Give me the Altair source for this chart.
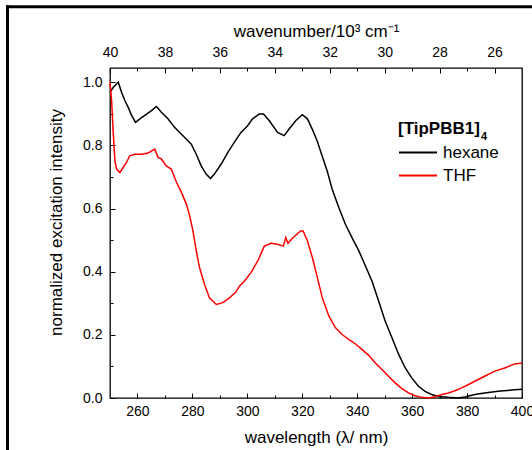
import altair as alt
import pandas as pd

# ---- data ----
hexane_nm = [250, 251.2, 253, 254.2, 255.4, 256.6, 257.9, 259.3, 260.9, 263.3, 265.1, 266.9,
             268.7, 271.1, 273.5, 277.2, 279.6, 281.4, 283.2, 285, 286.6, 288, 290.5, 292.9,
             295.3, 297.7, 300.1, 301.9, 304.3, 305.9, 308, 311, 313.4, 315.2, 317.6, 320,
             321.9, 323.7, 325.5, 327.3, 329.1, 330.9, 333.3, 335.7, 338.1, 340.6, 343, 345.4,
             347.8, 350.2, 352.7, 355.1, 357.5, 359.9, 362.3, 364.7, 367.1, 369.5, 373.1,
             376.8, 379.2, 382.8, 386.4, 391.3, 396.1, 400]
hexane_val = [0.968, 0.984, 1.0, 0.968, 0.942, 0.921, 0.894, 0.873, 0.884, 0.899, 0.910, 0.923,
              0.905, 0.884, 0.857, 0.825, 0.804, 0.772, 0.735, 0.709, 0.695, 0.709, 0.741, 0.778,
              0.810, 0.841, 0.862, 0.884, 0.899, 0.899, 0.878, 0.841, 0.831, 0.852, 0.878, 0.897,
              0.884, 0.850, 0.812, 0.765, 0.718, 0.661, 0.603, 0.550, 0.508, 0.466, 0.418, 0.370,
              0.307, 0.243, 0.190, 0.138, 0.095, 0.063, 0.037, 0.021, 0.011, 0.005, 0.002,
              0.0, 0.003, 0.011, 0.016, 0.021, 0.025, 0.028]

thf_nm = [250, 250.6, 251.2, 251.8, 252.4, 253.6, 254.8, 256, 257.2, 259, 261.5, 263.9, 266.3,
          267.5, 268.7, 270.5, 272.3, 274.2, 276, 277.8, 279, 280.2, 281.4, 282.6, 284.4, 286.2,
          288.7, 291.1, 293.5, 295.9, 297.1, 298.9, 301.3, 303.8, 306.2, 308.6, 311, 313.1, 314,
          314.8, 316.4, 319.4, 320.3, 321.9, 323.7, 325.5, 327.3, 329.7, 332.1, 334.5, 337,
          339.4, 341.8, 344.2, 346.6, 349, 351.4, 353.8, 356.3, 358.7, 361.1, 363.5, 365.9,
          368.4, 370.8, 373.2, 375.6, 378, 380.4, 382.8, 386.4, 390.1, 393.7, 397.3, 400]
thf_val = [1.0, 0.94, 0.836, 0.751, 0.725, 0.714, 0.73, 0.746, 0.767, 0.772, 0.772, 0.776, 0.788,
           0.762, 0.757, 0.735, 0.725, 0.683, 0.651, 0.614, 0.577, 0.529, 0.466, 0.413, 0.36, 0.317,
           0.296, 0.302, 0.317, 0.336, 0.354, 0.37, 0.397, 0.434, 0.481, 0.49, 0.487, 0.481, 0.508,
           0.49, 0.506, 0.529, 0.529, 0.497, 0.444, 0.381, 0.317, 0.259, 0.222, 0.201, 0.185,
           0.171, 0.153, 0.135, 0.111, 0.09, 0.069, 0.048, 0.03, 0.016, 0.007, 0.002, 0.0,
           0.004, 0.011, 0.016, 0.023, 0.032, 0.042, 0.053, 0.069, 0.085, 0.095, 0.108, 0.111]

series = ["hexane", "THF"]
series_colors = ["#000000", "#ff0000"]
legend_title = "[TipPBB1]"
legend_subscript = "4"

wl_major = [260, 280, 300, 320, 340, 360, 380, 400]
wl_minor = [270, 290, 310, 330, 350, 370, 390]
y_major = [0.0, 0.2, 0.4, 0.6, 0.8, 1.0]
y_minor = [0.1, 0.3, 0.5, 0.7, 0.9]
wn_major = [40, 38, 36, 34, 32, 30, 28, 26]
wn_minor = [39, 37, 35, 33, 31, 29, 27]

df = pd.concat([
    pd.DataFrame({"nm": hexane_nm, "val": hexane_val, "solvent": "hexane"}),
    pd.DataFrame({"nm": thf_nm, "val": thf_val, "solvent": "THF"}),
])

FONT = "Liberation Sans"
W, H = 412, 330
PAD_L, PAD_T = 110, 68

xscale = alt.Scale(domain=[250, 400], nice=False, zero=False)
yscale = alt.Scale(domain=[0, 1.045], nice=False, zero=False)
wnscale = alt.Scale(domain=[25, 40], reverse=True, nice=False, zero=False)

common = dict(domain=False, grid=False, tickColor="black", labelColor="black",
              titleColor="black", labelFont=FONT, titleFont=FONT, labelFontSize=14,
              titleFontSize=17, titleFontWeight="normal", tickWidth=1)

lines = alt.Chart(df).mark_line(strokeWidth=1.5).encode(
    x=alt.X("nm:Q", scale=xscale,
            axis=alt.Axis(orient="bottom", values=wl_major, tickSize=5, offset=-5,
                          labelPadding=6, title="wavelength (λ/ nm)", titlePadding=11,
                          labelFlush=False, **common)),
    y=alt.Y("val:Q", scale=yscale,
            axis=alt.Axis(orient="left", values=y_major, format=".1f", tickSize=5, offset=-5,
                          labelPadding=8, title="normalized excitation intensity",
                          titleX=-59, titleY=154, titleAngle=270, titleBaseline="middle",
                          titleAlign="center", labelFlush=False, **common)),
    color=alt.Color("solvent:N", scale=alt.Scale(domain=series, range=series_colors),
                    legend=alt.Legend(orient="none", legendX=288, legendY=53, padding=0,
                                      title=legend_title, titleFont=FONT, titleFontSize=17,
                                      titleFontWeight="bold", titleColor="black",
                                      titlePadding=6, labelFont=FONT, labelFontSize=17,
                                      labelColor="black", symbolType="stroke",
                                      symbolSize=1444, symbolStrokeWidth=2,
                                      clipHeight=17, rowPadding=5, labelOffset=5)),
)

minor = alt.Chart(df).mark_line(opacity=0).encode(
    x=alt.X("nm:Q", scale=xscale,
            axis=alt.Axis(orient="bottom", values=wl_minor, tickSize=3, offset=-3,
                          labels=False, title=None, **common)),
    y=alt.Y("val:Q", scale=yscale,
            axis=alt.Axis(orient="left", values=y_minor, tickSize=3, offset=-3,
                          labels=False, title=None, **common)),
    detail="solvent:N",
)

top_major = alt.Chart(pd.DataFrame({"k": wn_major})).mark_point(opacity=0).encode(
    x=alt.X("k:Q", scale=wnscale,
            axis=alt.Axis(orient="top", values=wn_major, tickSize=5, offset=-5,
                          labelPadding=9, title="wavenumber/10³ cm⁻¹", titlePadding=5,
                          labelFlush=False, **common)),
)

top_minor = alt.Chart(pd.DataFrame({"k": wn_minor})).mark_point(opacity=0).encode(
    x=alt.X("k:Q", scale=wnscale,
            axis=alt.Axis(orient="top", values=wn_minor, tickSize=3, offset=-3,
                          labels=False, title=None, **common)),
)

subscript = alt.Chart(pd.DataFrame({"t": [legend_subscript]})).mark_text(
    font=FONT, fontSize=11, fontWeight="bold", color="black", align="left", baseline="alphabetic"
).encode(text="t:N", x=alt.value(481 - PAD_L), y=alt.value(140 - PAD_T))

frame_left = alt.Chart(pd.DataFrame({"a": [0]})).mark_rule(color="black", strokeWidth=3).encode(
    x=alt.value(7.5 - PAD_L), y=alt.value(5.2 - PAD_T), y2=alt.value(450 - PAD_T))
frame_top = alt.Chart(pd.DataFrame({"a": [0]})).mark_rule(color="black", strokeWidth=3).encode(
    x=alt.value(6 - PAD_L), x2=alt.value(532 - PAD_L), y=alt.value(6.7 - PAD_T))

chart = alt.layer(lines, minor, top_major, top_minor, subscript, frame_left, frame_top).resolve_scale(
    x="independent"
).resolve_axis(
    x="independent", y="independent"
).properties(
    width=W, height=H,
    autosize=alt.AutoSizeParams(type="none"),
    padding={"left": PAD_L, "top": PAD_T, "right": 532 - PAD_L - W, "bottom": 450 - PAD_T - H},
    background="white",
).configure_view(stroke="black", strokeWidth=1.3)

chart.save("out.html", embed_options={"renderer": "svg", "actions": False})
